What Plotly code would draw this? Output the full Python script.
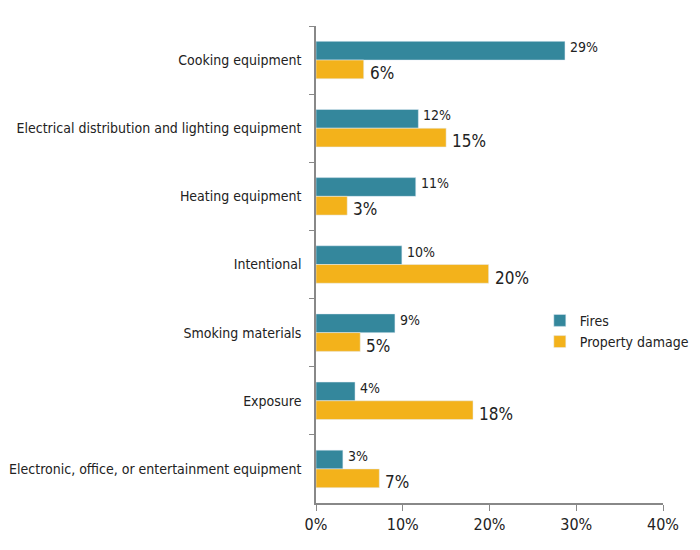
import plotly.graph_objects as go

categories = [
    "Cooking equipment",
    "Electrical distribution and lighting equipment",
    "Heating equipment",
    "Intentional",
    "Smoking materials",
    "Exposure",
    "Electronic, office, or entertainment equipment",
]
fires = [28.7, 11.8, 11.5, 9.9, 9.1, 4.5, 3.1]
fires_labels = ["29%", "12%", "11%", "10%", "9%", "4%", "3%"]
damage = [5.5, 15.0, 3.6, 19.9, 5.1, 18.1, 7.3]
damage_labels = ["6%", "15%", "3%", "20%", "5%", "18%", "7%"]
x_ticks = [0, 10, 20, 30, 40]
x_tick_labels = ["0%", "10%", "20%", "30%", "40%"]

FONT = "DejaVu Sans Condensed, Liberation Sans Narrow, sans-serif"
TEAL = "#34879C"
GOLD = "#F3B21B"

fig = go.Figure()
fig.add_trace(go.Bar(y=categories, x=fires, name="Fires", orientation="h",
                     marker=dict(color=TEAL)))
fig.add_trace(go.Bar(y=categories, x=damage, name="Property damage", orientation="h",
                     marker=dict(color=GOLD)))

ann = []
for c, v, t in zip(categories, fires, fires_labels):
    ann.append(dict(x=v, y=c, xref="x", yref="y", text=t, showarrow=False,
                    xanchor="left", yanchor="middle", xshift=3, yshift=13,
                    font=dict(family=FONT, size=14, color="#222")))
for c, v, t in zip(categories, damage, damage_labels):
    ann.append(dict(x=v, y=c, xref="x", yref="y", text=t, showarrow=False,
                    xanchor="left", yanchor="middle", xshift=4, yshift=-13,
                    font=dict(family=FONT, size=17, color="#222")))

fig.update_layout(
    width=692, height=542,
    margin=dict(l=308, r=37, t=18, b=47, autoexpand=False),
    paper_bgcolor="white", plot_bgcolor="white",
    barmode="group", bargap=0.45, bargroupgap=0,
    font=dict(family=FONT, size=14, color="#222"),
    annotations=ann,
    legend=dict(x=0.645, y=0.36, xanchor="left", yanchor="middle",
                font=dict(family=FONT, size=14, color="#222"),
                itemwidth=30, tracegroupgap=0, bgcolor="rgba(0,0,0,0)"),
    xaxis=dict(range=[0, 40], tickvals=x_ticks, ticktext=x_tick_labels,
               showgrid=False, zeroline=False, showline=True, linecolor="#888",
               linewidth=1.5, ticks="outside", ticklen=6, tickcolor="#888",
               automargin=False,
               tickfont=dict(family=FONT, size=16, color="#222"), fixedrange=True),
    yaxis=dict(autorange="reversed", showgrid=False, showline=True, linecolor="#888",
               linewidth=1.5, ticks="outside", ticklen=5, tickcolor="#888",
               tickson="boundaries", ticklabelstandoff=10, automargin=False,
               tickfont=dict(family=FONT, size=14, color="#222")),
)

fig.write_html("out.html")
